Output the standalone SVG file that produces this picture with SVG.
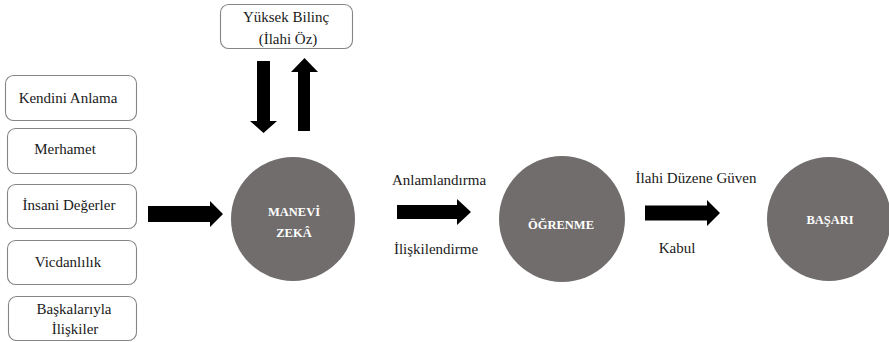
<svg xmlns="http://www.w3.org/2000/svg" width="889" height="342" viewBox="0 0 889 342">
<style>
.box{fill:#fff;stroke:#858585;stroke-width:1.1}
.bt{font-family:"Liberation Serif","Times New Roman",serif;font-size:15px;fill:#1a1a1a;text-anchor:middle}
.lbl{font-family:"Liberation Serif","Times New Roman",serif;font-size:15px;fill:#1a1a1a;text-anchor:middle}
.circ{fill:#716d6d}
.ct{font-family:"Liberation Serif","Times New Roman",serif;font-size:12.5px;font-weight:bold;fill:#fff;text-anchor:middle}
.arr{fill:#000}
</style>
<rect width="889" height="342" fill="#fff"/>
<g id="kendini-anlama"><rect class="box" x="5.5" y="75.5" width="131" height="45" rx="8"/><text class="bt" x="68" y="103">Kendini Anlama</text></g>
<g id="merhamet"><rect class="box" x="7.5" y="128.5" width="129" height="45" rx="8"/><text class="bt" x="65" y="154">Merhamet</text></g>
<g id="insani-degerler"><rect class="box" x="7.5" y="184.5" width="129" height="44" rx="8"/><text class="bt" x="69" y="210">İnsani Değerler</text></g>
<g id="vicdanlilik"><rect class="box" x="7.5" y="240.5" width="129" height="44" rx="8"/><text class="bt" x="68" y="267">Vicdanlılık</text></g>
<g id="baskalariyla-iliskiler"><rect class="box" x="8.5" y="296.5" width="128" height="44" rx="8"/><text class="bt" x="74" y="314">Başkalarıyla</text><text class="bt" x="75" y="334">İlişkiler</text></g>
<g id="yuksek-bilinc"><rect class="box" x="220.5" y="4.5" width="132" height="44" rx="8"/><text class="bt" x="286" y="22">Yüksek Bilinç</text><text class="bt" x="288" y="44">(İlahi Öz)</text></g>
<g id="manevi-zeka"><circle class="circ" cx="293" cy="219" r="62"/><text class="ct" x="294" y="216">MANEVİ</text><text class="ct" x="294" y="237">ZEKÂ</text></g>
<g id="ogrenme"><circle class="circ" cx="562" cy="219" r="63"/><text class="ct" x="561" y="229">ÖĞRENME</text></g>
<g id="basari"><circle class="circ" cx="829" cy="219" r="62"/><text class="ct" x="830" y="224">BAŞARI</text></g>
<g id="connectors">
<polygon class="arr" points="257,61 270,61 270,121 277,121 263.5,133 250,121 257,121"/>
<polygon class="arr" points="298,131 310,131 310,72 318,72 304.5,58 291,72 298,72"/>
<polygon class="arr" points="148,206 210,206 210,201 223,214 210,227 210,222 148,222"/>
<polygon class="arr" points="397,205 457,205 457,199 471,212 457,225 457,219 397,219"/>
<polygon class="arr" points="645,205.5 707,205.5 707,200 720,213 707,226 707,220.5 645,220.5"/>
<text class="lbl" x="439" y="185">Anlamlandırma</text>
<text class="lbl" x="436" y="254">İlişkilendirme</text>
<text class="lbl" x="696" y="183">İlahi Düzene Güven</text>
<text class="lbl" x="677" y="253">Kabul</text>
</g>
</svg>
